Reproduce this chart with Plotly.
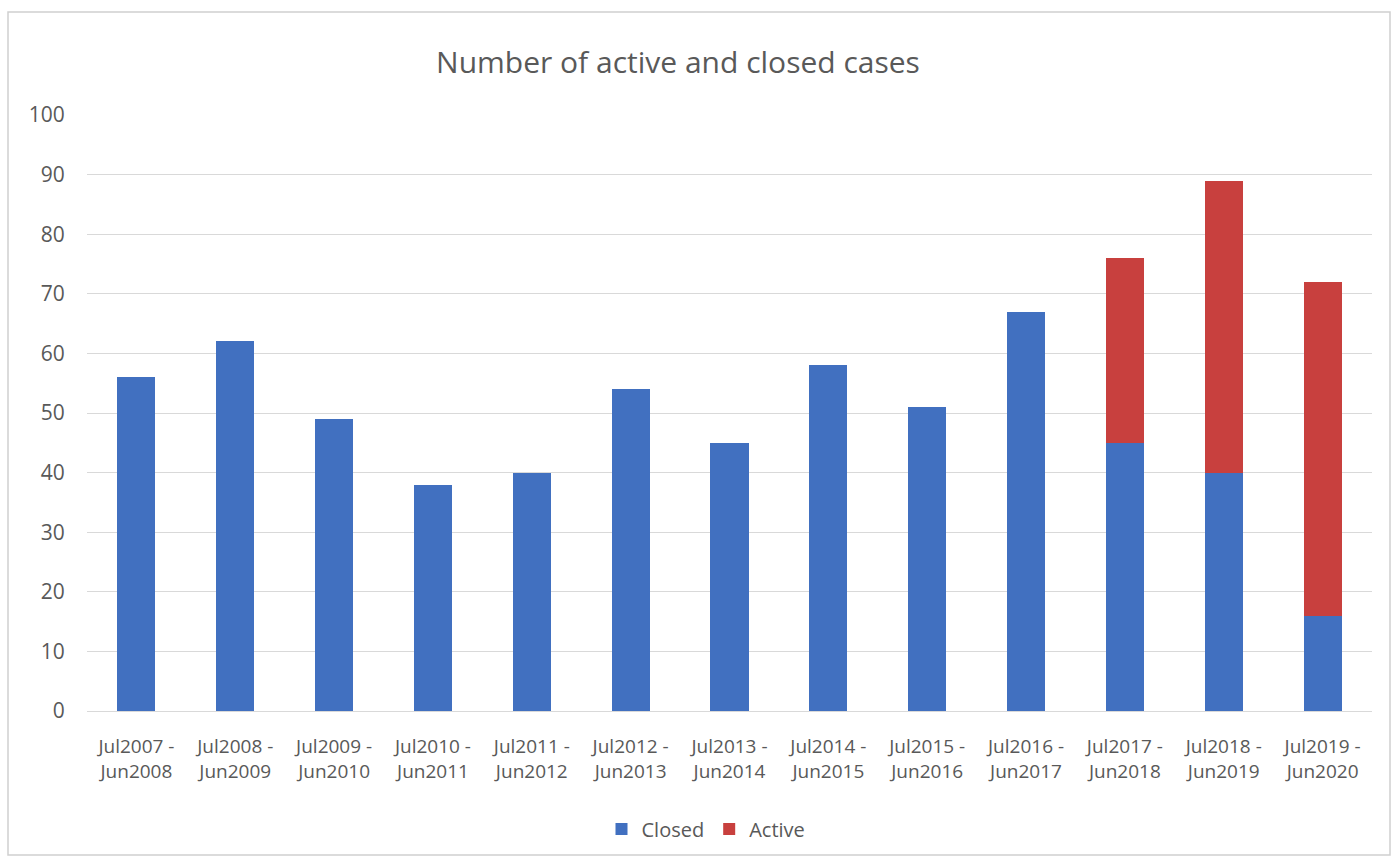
import plotly.graph_objects as go

periods = ["Jul2007 -<br>Jun2008", "Jul2008 -<br>Jun2009", "Jul2009 -<br>Jun2010",
           "Jul2010 -<br>Jun2011", "Jul2011 -<br>Jun2012", "Jul2012 -<br>Jun2013",
           "Jul2013 -<br>Jun2014", "Jul2014 -<br>Jun2015", "Jul2015 -<br>Jun2016",
           "Jul2016 -<br>Jun2017", "Jul2017 -<br>Jun2018", "Jul2018 -<br>Jun2019",
           "Jul2019 -<br>Jun2020"]
closed = [56, 62, 49, 38, 40, 54, 45, 58, 51, 67, 45, 40, 16]
active = [0, 0, 0, 0, 0, 0, 0, 0, 0, 0, 31, 49, 56]
y_ticks = [0, 10, 20, 30, 40, 50, 60, 70, 80, 90, 100]

BLUE = "#4170C0"
RED = "#C8403E"
GRAY = "#595959"
FONT = "Open Sans, sans-serif"

fig = go.Figure()
fig.add_trace(go.Bar(x=periods, y=closed, name="Closed", marker=dict(color=BLUE, line=dict(width=0))))
fig.add_trace(go.Bar(x=periods, y=active, name="Active", marker=dict(color=RED, line=dict(width=0))))

fig.update_layout(
    width=1396, height=861,
    barmode="stack", bargap=0.615,
    margin=dict(l=87, r=24, t=115, b=150),
    paper_bgcolor="white", plot_bgcolor="white",
    font=dict(family=FONT, color=GRAY, size=18),
    title=dict(text="Number of active and closed cases", x=678 / 1396, xanchor="center",
               y=1 - 62 / 861, yanchor="middle", font=dict(size=30, color=GRAY, family=FONT)),
    showlegend=True,
    legend=dict(orientation="h", x=(706 - 87) / 1285, xanchor="center", y=-0.198, yanchor="middle",
                font=dict(size=20, color=GRAY), itemwidth=30, traceorder="normal"),
    xaxis=dict(showgrid=False, showline=False, ticks="outside", ticklen=18,
               tickcolor="rgba(0,0,0,0)", tickfont=dict(size=19, color=GRAY)),
    yaxis=dict(range=[0, 100], tickvals=y_ticks, showgrid=True, gridcolor="#D9D9D9",
               gridwidth=1, zeroline=True, zerolinecolor="#D9D9D9", zerolinewidth=1,
               showline=False, ticks="outside", ticklen=17, tickcolor="rgba(0,0,0,0)",
               tickfont=dict(size=21, color=GRAY)),
    shapes=[dict(type="rect", xref="paper", yref="paper",
                 x0=(8 - 87) / 1285, x1=(1390 - 87) / 1285,
                 y0=(711 - 855) / 596, y1=(711 - 12) / 596,
                 line=dict(color="#D0D0D0", width=1.5), fillcolor="rgba(0,0,0,0)", layer="below")],
)

fig.write_html("out.html", config={"displayModeBar": False},
               post_script="document.body.style.margin='0px';")
